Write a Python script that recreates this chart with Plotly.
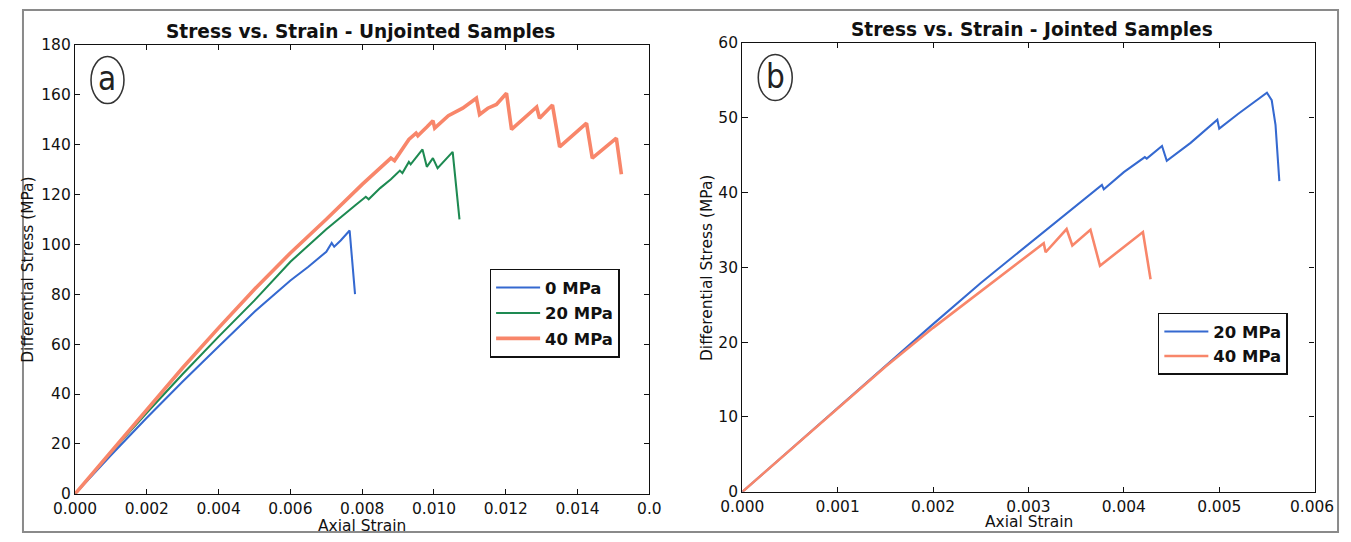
import plotly.graph_objects as go

W, H = 1351, 542
# measured mapping from page pixels to the photographed picture; positions below are
# given in reference-picture pixels and converted back to page pixels.
S, OX, OY = 0.9705, 20.2, 8.3
GX, GXO = 1.0056, 1.6     # residual horizontal stretch
GY, GYO = 0.9955, 0.2     # residual vertical squeeze

# ---------------- data: unjointed samples ----------------
strain_0 = [0, 0.001, 0.002, 0.003, 0.004, 0.005, 0.006, 0.0065, 0.007, 0.00715,
            0.00722, 0.0074, 0.00765, 0.0078]
stress_0 = [0, 15.5, 30.5, 45, 59, 73, 85.5, 91, 97, 100.5, 99, 101.5, 105.5, 80]

strain_20 = [0, 0.001, 0.002, 0.003, 0.004, 0.005, 0.006, 0.007, 0.0078, 0.0081,
             0.00818, 0.0085, 0.0088, 0.00905, 0.00912, 0.0093, 0.00935, 0.00968,
             0.0098, 0.00997, 0.0101, 0.01052, 0.01071]
stress_20 = [0, 16.5, 32.5, 48, 63, 77.5, 93, 106, 115.5, 119, 118, 122.5, 126,
             129.5, 128.5, 133, 132, 138, 131, 134.5, 130.5, 137, 110]

strain_40 = [0, 0.001, 0.002, 0.003, 0.004, 0.005, 0.006, 0.007, 0.008, 0.0085,
             0.0088, 0.0089, 0.0093, 0.0095, 0.00955, 0.0098, 0.00997, 0.01002,
             0.0104, 0.0108, 0.01118, 0.01127, 0.0115, 0.01174, 0.01183, 0.01202,
             0.01216, 0.0125, 0.01286, 0.01294, 0.0133, 0.0135, 0.01425, 0.01441,
             0.01508, 0.01522]
stress_40 = [0, 17, 34, 50.5, 66.5, 82, 96.5, 110, 124, 130.5, 134.5, 133.5, 142,
             144.5, 143.5, 147, 149.5, 146.5, 151.5, 154.5, 158.5, 152, 154.5, 156,
             157.5, 160.5, 146, 150.5, 155, 150.5, 155.8, 139, 148.5, 134.5, 142.5, 128]

# ---------------- data: jointed samples ----------------
strain_j20 = [0, 0.0005, 0.001, 0.0015, 0.002, 0.0025, 0.003, 0.0035, 0.00377,
              0.00379, 0.0040, 0.00422, 0.00424, 0.0044, 0.00445, 0.0047, 0.00498,
              0.005, 0.0052, 0.0055, 0.00555, 0.00559, 0.00563]
stress_j20 = [0, 5.6, 11.3, 16.8, 22.4, 27.9, 33.1, 38.2, 41.0, 40.4, 42.7, 44.7,
              44.5, 46.2, 44.2, 46.6, 49.7, 48.5, 50.5, 53.3, 52.3, 49.0, 41.5]

strain_j40 = [0, 0.0005, 0.001, 0.0015, 0.002, 0.0025, 0.0028, 0.00316, 0.00318,
              0.0034, 0.00346, 0.00365, 0.00375, 0.0042, 0.00428]
stress_j40 = [0, 5.6, 11.2, 16.7, 21.9, 26.8, 29.7, 33.2, 32.0, 35.1, 32.9, 35.0,
              30.2, 34.7, 28.4]

# tick labels
xticks_left = [0, 0.002, 0.004, 0.006, 0.008, 0.010, 0.012, 0.014, 0.016]
xtext_left = ["0.000", "0.002", "0.004", "0.006", "0.008", "0.010", "0.012", "0.014", "0.0"]
xticks_right = [0, 0.001, 0.002, 0.003, 0.004, 0.005, 0.006]
xtext_right = ["0.000", "0.001", "0.002", "0.003", "0.004", "0.005", "0.006"]

BLUE = "#3569D0"
GREEN = "#1E8A52"
SALMON = "#F8866A"


def px(x):
    x = (x - GXO) / GX
    return (x - OX) / S / W


def py(y):
    y = (y - GYO) / GY
    return 1 - (y - OY) / S / H


def sz(v):
    return v / S


fig = go.Figure()

fig.add_trace(go.Scatter(x=strain_0, y=stress_0, mode="lines", name="0 MPa",
                         line=dict(color=BLUE, width=sz(2)), xaxis="x", yaxis="y",
                         legend="legend", legendgroup="a0"))
fig.add_trace(go.Scatter(x=strain_20, y=stress_20, mode="lines", name="20 MPa",
                         line=dict(color=GREEN, width=sz(2)), xaxis="x", yaxis="y",
                         legend="legend", legendgroup="a1"))
fig.add_trace(go.Scatter(x=strain_40, y=stress_40, mode="lines", name="40 MPa",
                         line=dict(color=SALMON, width=sz(3.5)), xaxis="x", yaxis="y",
                         legend="legend", legendgroup="a2"))
fig.add_trace(go.Scatter(x=strain_j20, y=stress_j20, mode="lines", name="20 MPa",
                         line=dict(color=BLUE, width=sz(2)), xaxis="x2", yaxis="y2",
                         legend="legend2", legendgroup="b0"))
fig.add_trace(go.Scatter(x=strain_j40, y=stress_j40, mode="lines", name="40 MPa",
                         line=dict(color=SALMON, width=sz(2.5)), xaxis="x2", yaxis="y2",
                         legend="legend2", legendgroup="b1"))

tickfont = dict(family="DejaVu Sans", size=sz(15), color="#111")
axis_common = dict(showline=True, linecolor="#111", linewidth=sz(1.3), mirror="ticks",
                   ticks="inside", ticklen=sz(5), tickwidth=sz(1), tickcolor="#111",
                   showgrid=False, zeroline=False, tickfont=tickfont, fixedrange=True)

legend_font = dict(family="DejaVu Sans", size=sz(16), color="#111", weight="bold")

# the last right-hand tick label sits at the page edge: draw it as an annotation nudged inward
xtext_right_axis = xtext_right[:-1] + [""]

fig.update_layout(
    width=W, height=H,
    margin=dict(l=0, r=0, t=0, b=0),
    paper_bgcolor="white", plot_bgcolor="white",
    xaxis=dict(domain=[px(75), px(650)], range=[0, 0.016], tickvals=xticks_left,
               ticktext=xtext_left, anchor="y", **axis_common),
    yaxis=dict(domain=[py(493), py(44)], range=[0, 180], tickvals=list(range(0, 181, 20)),
               anchor="x", **axis_common),
    xaxis2=dict(domain=[px(743), px(1316)], range=[0, 0.006], tickvals=xticks_right,
                ticktext=xtext_right_axis, anchor="y2", **axis_common),
    yaxis2=dict(domain=[py(491), py(42)], range=[0, 60], tickvals=list(range(0, 61, 10)),
                anchor="x2", **axis_common),
    legend=dict(x=px(490), y=py(268), xanchor="left", yanchor="top",
                bordercolor="#111", borderwidth=sz(1.5), bgcolor="white",
                font=legend_font, tracegroupgap=1, itemwidth=44),
    legend2=dict(x=px(1159), y=py(312), xanchor="left", yanchor="top",
                 bordercolor="#111", borderwidth=sz(1.5), bgcolor="white",
                 font=legend_font, tracegroupgap=0, itemwidth=44),
    showlegend=True,
)

title_font = dict(family="DejaVu Sans", size=sz(18), color="#111", weight="bold")
label_font = dict(family="DejaVu Sans", size=sz(15), color="#111")
letter_font = dict(family="Liberation Sans Narrow, DejaVu Sans Condensed, Liberation Sans",
                   size=sz(32), color="#222")

annotations = [
    dict(text="Stress vs. Strain - Unjointed Samples", x=px(361), y=py(31), font=title_font),
    dict(text="Stress vs. Strain - Jointed Samples", x=px(1033), y=py(29), font=title_font),
    dict(text="Axial Strain", x=px(362), y=py(525), font=label_font),
    dict(text="Axial Strain", x=px(1030), y=py(521), font=label_font),
    dict(text="Differential Stress (MPa)", x=px(28), y=py(269), font=label_font, textangle=-90),
    dict(text="Differential Stress (MPa)", x=px(707), y=py(267), font=label_font, textangle=-90),
    dict(text="a", x=px(107), y=py(78), font=letter_font),
    dict(text="b", x=px(776), y=py(76), font=letter_font),
]
for a in annotations:
    a.update(xref="paper", yref="paper", showarrow=False, xanchor="center", yanchor="middle")
annotations.append(dict(text=xtext_right[-1], xref="x2", x=xticks_right[-1], yref="paper",
                        y=py(506), xanchor="center", yanchor="middle", xshift=-3,
                        showarrow=False, font=tickfont))
fig.update_layout(annotations=annotations)

shapes = [
    # outer frame of the figure (drawn at the page edge)
    dict(type="rect", x0=1 / W, x1=1 - 1 / W, y0=1 / H, y1=1 - 1 / H,
         line=dict(color="#8a8a8a", width=2), fillcolor="rgba(0,0,0,0)"),
    # circled panel letters
    dict(type="circle", x0=px(91), x1=px(124), y0=py(103), y1=py(56),
         line=dict(color="#333", width=sz(1.5))),
    dict(type="circle", x0=px(759), x1=px(793), y0=py(100), y1=py(54),
         line=dict(color="#333", width=sz(1.5))),
]
for s in shapes:
    s.update(xref="paper", yref="paper", layer="above")
fig.update_layout(shapes=shapes)

fig.write_html(
    "out.html",
    config={"displayModeBar": False},
    post_script="document.body.style.margin='0';document.body.style.overflow='hidden';",
)
